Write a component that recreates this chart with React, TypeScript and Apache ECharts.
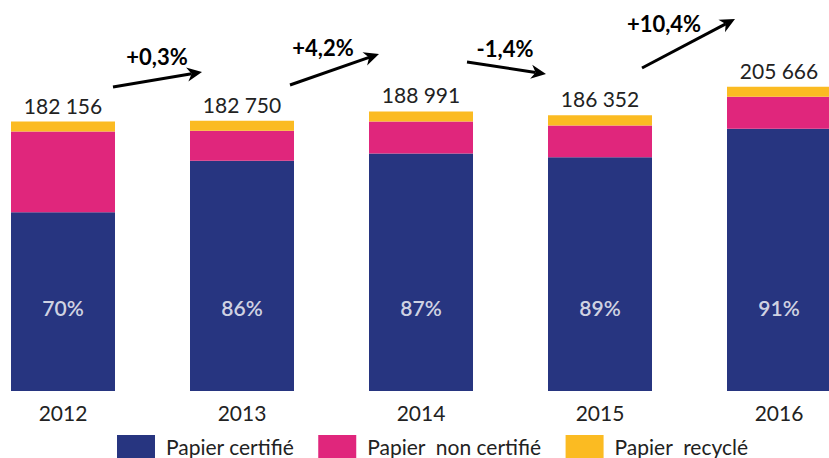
import React, { useEffect, useRef } from "react";
import * as echarts from "echarts";

const years = ["2012", "2013", "2014", "2015", "2016"];
const totals = [182156, 182750, 188991, 186352, 205666];
const certifie = [120856, 155650, 160591, 157952, 177266];
const nonCertifie = [54500, 20300, 21600, 21600, 21600];
const recycle = [6800, 6800, 6800, 6800, 6800];
const pctCertifie = ["70%", "86%", "87%", "89%", "91%"];
const evolutions = ["+0,3%", "+4,2%", "-1,4%", "+10,4%"];
const seriesNames = ["Papier certifié", "Papier  non certifié", "Papier  recyclé"];

const BLUE = "#273580";
const PINK = "#E0267C";
const YELLOW = "#FBBB22";
const FONT = "Lato";

// annotation arrows (pixel geometry)
const arrowGeom = [
  { x1: 113, y1: 87, x2: 202, y2: 72, tx: 157, ty: 56 },
  { x1: 290, y1: 85, x2: 379, y2: 54, tx: 323, ty: 47 },
  { x1: 467, y1: 62, x2: 546, y2: 74, tx: 505, ty: 48 },
  { x1: 642, y1: 68, x2: 735, y2: 19, tx: 664, ty: 23 },
];

function fmt(n: number) {
  return String(n).replace(/\B(?=(\d{3})+(?!\d))/g, " ");
}

function arrow(g: any, label: string) {
  const dx = g.x2 - g.x1;
  const dy = g.y2 - g.y1;
  const len = Math.sqrt(dx * dx + dy * dy);
  const ux = dx / len;
  const uy = dy / len;
  const nx = -uy;
  const ny = ux;
  const L = 15;
  const W = 7;
  const bx = g.x2 - ux * L;
  const by = g.y2 - uy * L;
  const notchX = g.x2 - ux * L * 0.7;
  const notchY = g.y2 - uy * L * 0.7;
  return [
    {
      type: "line",
      shape: { x1: g.x1, y1: g.y1, x2: notchX, y2: notchY },
      style: { stroke: "#000", lineWidth: 3 },
    },
    {
      type: "polygon",
      shape: {
        points: [
          [g.x2, g.y2],
          [bx + nx * W, by + ny * W],
          [notchX, notchY],
          [bx - nx * W, by - ny * W],
        ],
      },
      style: { fill: "#000" },
    },
    {
      type: "text",
      x: g.tx,
      y: g.ty,
      style: {
        text: label,
        fill: "#000",
        font: `bold 22px ${FONT}`,
        align: "center",
        verticalAlign: "middle",
      },
    },
  ];
}

export default function App() {
  const ref = useRef<HTMLDivElement>(null);
  useEffect(() => {
    if (!ref.current) return;
    const chart = echarts.init(ref.current, undefined, { renderer: "svg" });
    const gridTop = 36;
    const gridH = 355;
    const yMax = 240000;
    const pctY = ((391 - 307.5) / gridH) * yMax;
    const graphics: any[] = [];
    arrowGeom.forEach((g, i) => graphics.push(...arrow(g, evolutions[i])));
    chart.setOption({
      animation: false,
      textStyle: { fontFamily: FONT },
      grid: {
        left: -26.5,
        width: 895,
        top: gridTop,
        height: gridH,
        outerBoundsMode: "none",
        containLabel: false,
      },
      xAxis: {
        type: "category",
        data: years,
        axisLine: { show: false },
        axisTick: { show: false },
        axisLabel: { fontSize: 21, color: "#222", margin: 11, fontFamily: FONT },
      },
      yAxis: { type: "value", min: 0, max: yMax, show: false, splitLine: { show: false } },
      legend: {
        left: 117,
        top: 435,
        padding: 0,
        itemWidth: 38,
        itemHeight: 23,
        itemGap: 24,
        icon: "rect",
        textStyle: { fontSize: 21, color: "#222", fontFamily: FONT, padding: [0, 0, 0, 6] },
        data: seriesNames,
      },
      series: [
        {
          name: seriesNames[0],
          type: "bar",
          stack: "t",
          barWidth: 104,
          data: certifie,
          itemStyle: { color: BLUE },
        },
        {
          name: seriesNames[1],
          type: "bar",
          stack: "t",
          barWidth: 104,
          data: nonCertifie,
          itemStyle: { color: PINK },
        },
        {
          name: seriesNames[2],
          type: "bar",
          stack: "t",
          barWidth: 104,
          data: recycle,
          itemStyle: { color: YELLOW },
          label: {
            show: true,
            position: "top",
            distance: 6,
            fontSize: 21,
            color: "#222",
            fontFamily: FONT,
            formatter: (p: any) => fmt(totals[p.dataIndex]),
          },
        },
        {
          type: "scatter",
          data: years.map(() => pctY),
          symbolSize: 0,
          silent: true,
          label: {
            show: true,
            position: "inside",
            fontSize: 21,
            fontWeight: 600,
            color: "#fff",
            fontFamily: FONT,
            formatter: (p: any) => pctCertifie[p.dataIndex],
          },
        },
      ],
      graphic: graphics,
    });
    return () => chart.dispose();
  }, []);
  return <div ref={ref} style={{ width: 829, height: 458, position: "absolute", left: 0, top: 0 }} />;
}
